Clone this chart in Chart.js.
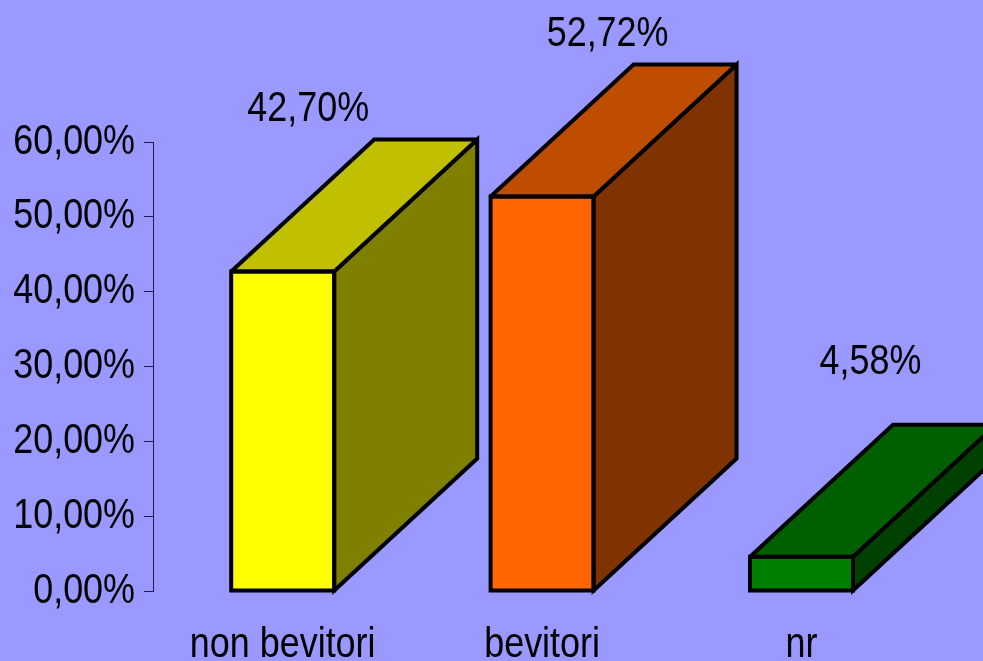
<!DOCTYPE html>
<html><head><meta charset="utf-8">
<style>html,body{margin:0;padding:0;background:#9999ff;overflow:hidden}canvas{display:block}</style>
<script src="https://cdn.jsdelivr.net/npm/chart.js@4"></script>
</head><body><canvas id="c" width="983" height="661"></canvas>
<script>
const categories = ["non bevitori", "bevitori", "nr"];
const values = [42.70, 52.72, 4.58];
const frontColors = ["#ffff00", "#ff6600", "#008000"];
const topColors = ["#c0c000", "#bf4d00", "#006000"];
const sideColors = ["#808000", "#803300", "#004000"];
const FONT = '"Liberation Sans",Arial,sans-serif';
const FONT_SIZE = 42;
const TEXT_CONDENSE = 0.855;
const pct = v => v.toFixed(2).replace('.', ',') + '%';

const depth = {dx: 143, dy: -132};
const labelOffsets = [{x: 25.5, y: -30}, {x: 65.5, y: -30}, {x: 69, y: -62}];

const box3d = {
  id: 'box3d',
  beforeDraw(chart) {
    const c = chart.ctx; c.save(); c.fillStyle = '#9999ff';
    c.fillRect(0, 0, chart.width, chart.height); c.restore();
  },
  afterDatasetsDraw(chart) {
    const c = chart.ctx;
    const poly = (pts, fill) => {
      c.beginPath(); pts.forEach((p, i) => i ? c.lineTo(p[0], p[1]) : c.moveTo(p[0], p[1]));
      c.closePath();
      if (fill) { c.fillStyle = fill; c.fill(); }
      c.stroke();
    };
    c.save();
    c.lineWidth = 4; c.lineJoin = 'miter'; c.miterLimit = 2.5; c.strokeStyle = '#000';
    chart.getDatasetMeta(0).data.forEach((b, i) => {
      const l = b.x - b.width / 2, r = b.x + b.width / 2, t = b.y, bt = b.base;
      const {dx, dy} = depth;
      poly([[r, bt], [r + dx, bt + dy], [r + dx, t + dy], [r, t]], sideColors[i]);
      poly([[l, t], [l + dx, t + dy], [r + dx, t + dy], [r, t]], topColors[i]);
      poly([[l, t], [r, t], [r, bt], [l, bt]], null);
      c.fillStyle = '#000'; c.font = FONT_SIZE + 'px ' + FONT;
      c.textAlign = 'center'; c.textBaseline = 'middle';
      c.fillText(pct(values[i]), b.x + labelOffsets[i].x, t + dy + labelOffsets[i].y);
    });
    c.restore();
  }
};

const canvas = document.getElementById('c');
const ctx = canvas.getContext('2d');
// The reference's text is a condensed sans; none is installed, so squeeze real text horizontally.
const plainFillText = ctx.fillText.bind(ctx);
ctx.fillText = function (text, x, y) {
  ctx.save();
  ctx.translate(x, y);
  ctx.scale(TEXT_CONDENSE, 1);
  plainFillText(text, 0, 0);
  ctx.restore();
};

new Chart(ctx, {
  type: 'bar',
  data: {
    labels: categories,
    datasets: [{
      data: values,
      backgroundColor: frontColors,
      borderWidth: 0,
      barPercentage: 1,
      categoryPercentage: 0.397
    }]
  },
  plugins: [box3d],
  options: {
    responsive: false,
    animation: false,
    devicePixelRatio: 1,
    layout: {padding: {top: 142, right: 51.8, left: 0, bottom: 0}},
    plugins: {legend: {display: false}, tooltip: {enabled: false}},
    scales: {
      x: {
        afterFit(s) { s.height = 70; },
        grid: {display: false},
        border: {display: false},
        ticks: {color: '#000', font: {family: FONT, size: FONT_SIZE}, padding: 21, maxRotation: 0, autoSkip: false}
      },
      y: {
        min: 0, max: 60,
        afterFit(s) { s.width = 153; },
        grid: {drawOnChartArea: false, tickLength: 9, color: '#1a1a50', lineWidth: 1},
        border: {display: true, color: '#1a1a50', width: 1},
        ticks: {stepSize: 10, color: '#000', padding: 9, font: {family: FONT, size: FONT_SIZE}, callback: v => pct(v)}
      }
    }
  }
});
</script></body></html>
